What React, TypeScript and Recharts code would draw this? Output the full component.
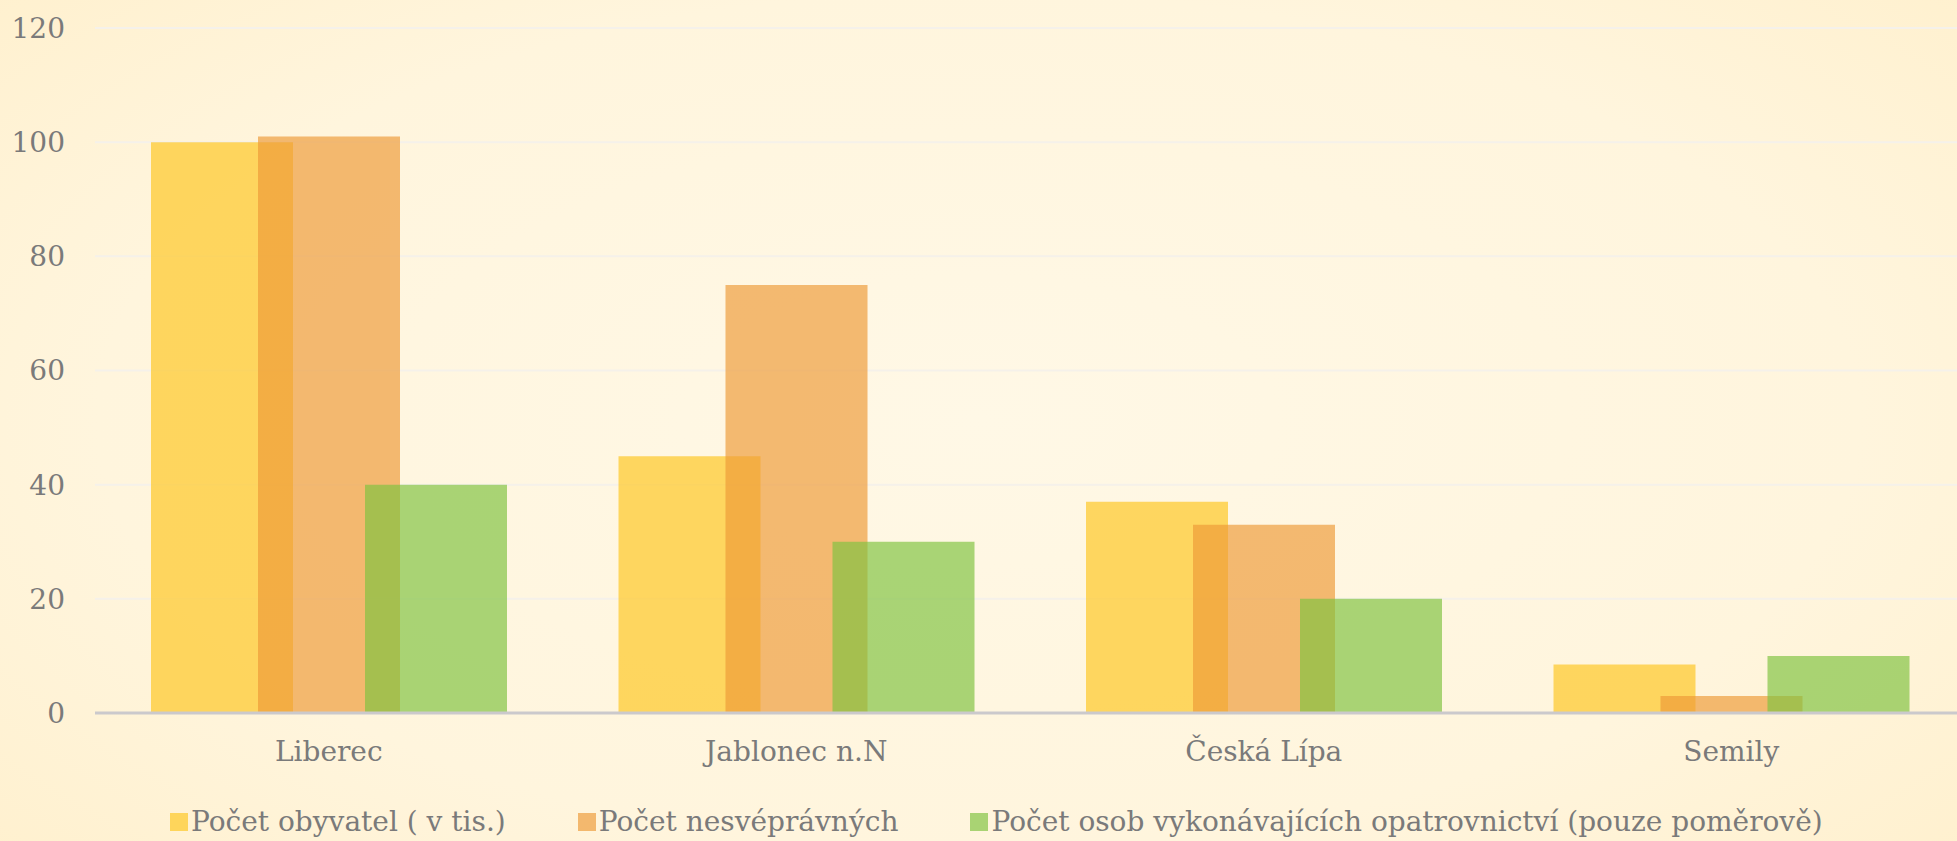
import { Bar, BarChart, CartesianGrid, XAxis, YAxis } from "recharts";

const districts = ["Liberec", "Jablonec n.N", "Česká Lípa", "Semily"];
const obyvatel = [100, 45, 37, 8.5];
const nesvepravni = [101, 75, 33, 3];
const opatrovnici = [40, 30, 20, 10];
const yTicks = [0, 20, 40, 60, 80, 100, 120];

const series = [
  { key: "obyvatel", name: "Počet obyvatel ( v tis.)", color: "#FEC92C", opacity: 0.72 },
  { key: "nesvepravni", name: "Počet nesvéprávných", color: "#ED9A37", opacity: 0.67 },
  { key: "opatrovnici", name: "Počet osob vykonávajících opatrovnictví (pouze poměrově)", color: "#80C241", opacity: 0.68 }
];

const data = districts.map((d, i) => ({
  district: d,
  obyvatel: obyvatel[i],
  nesvepravni: nesvepravni[i],
  opatrovnici: opatrovnici[i]
}));

const font = "'DejaVu Serif', 'Liberation Serif', serif";
const textColor = "#7A7A7A";

export default function App() {
  return (
    <div
      style={{
        position: "absolute",
        left: 0,
        top: 0,
        width: 1957,
        height: 841,
        overflow: "hidden",
        fontFamily: font,
        background:
          "radial-gradient(ellipse 75% 85% at 50% 50%, #FFF8E6 0%, #FFF5DD 60%, #FFEFCA 100%)"
      }}
    >
      <BarChart
        width={1975}
        height={841}
        data={data}
        margin={{ top: 28, right: 10, left: 0, bottom: 68 }}
        barSize={142}
        barGap={-35}
      >
        <CartesianGrid vertical={false} stroke="#F5F1EA" strokeWidth={2} />
        <XAxis
          dataKey="district"
          height={60}
          tickLine={false}
          tickSize={0}
          tickMargin={28}
          axisLine={{ stroke: "#CBC9CC", strokeWidth: 3 }}
          tick={{ fill: textColor, fontSize: 28, fontFamily: font }}
        />
        <YAxis
          width={95}
          domain={[0, 120]}
          ticks={yTicks}
          axisLine={false}
          tickLine={false}
          tickSize={0}
          tickMargin={30}
          tick={{ fill: textColor, fontSize: 28, fontFamily: font }}
        />
        {series.map((s) => (
          <Bar
            key={s.key}
            dataKey={s.key}
            name={s.name}
            fill={s.color}
            fillOpacity={s.opacity}
            isAnimationActive={false}
          />
        ))}
      </BarChart>
      <div
        style={{
          position: "absolute",
          left: 170,
          top: 804,
          display: "flex",
          gap: 72,
          alignItems: "center",
          color: textColor,
          fontSize: 28,
          lineHeight: "36px",
          whiteSpace: "nowrap"
        }}
      >
        {series.map((s) => (
          <div key={s.key} style={{ display: "flex", alignItems: "center" }}>
            <span
              style={{
                display: "inline-block",
                width: 18,
                height: 18,
                marginRight: 3,
                background: s.color,
                opacity: s.opacity
              }}
            />
            <span>{s.name}</span>
          </div>
        ))}
      </div>
    </div>
  );
}
